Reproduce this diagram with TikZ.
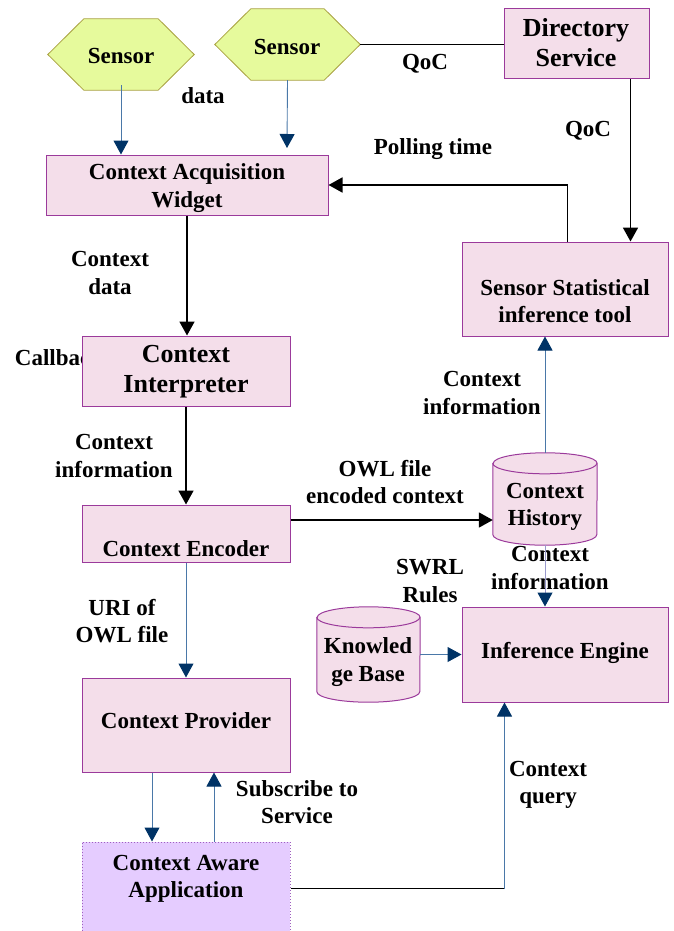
\documentclass[tikz,border=0pt]{standalone}
\usepackage{fontspec}
\setmainfont{Liberation Serif}
\usetikzlibrary{arrows.meta}
\definecolor{boxfill}{HTML}{F4DEEA}
\definecolor{boxline}{HTML}{9B3A9B}
\definecolor{sensfill}{HTML}{E6FA9C}
\definecolor{sensline}{HTML}{A8A040}
\definecolor{appfill}{HTML}{E5CCFF}
\definecolor{appline}{HTML}{A060C0}
\definecolor{navy}{HTML}{003366}
\definecolor{steel}{HTML}{4A78A8}
\definecolor{lav}{HTML}{9A9ACC}
\tikzset{
  every node/.style={font=\fontsize{23}{27.5}\selectfont\bfseries, inner sep=0pt, align=center},
  bigtext/.style={font=\fontsize{26}{30}\selectfont\bfseries},
  box/.style={draw=boxline, fill=boxfill, line width=1pt},
  appbox/.style={draw=appline, fill=appfill, line width=1pt, dotted},
  hold/.style={inner sep=0pt},
  blk/.style={line width=1.8pt, -{Triangle[length=14pt,width=15pt]}},
  blkline/.style={line width=1.8pt},
  blu/.style={line width=0.9pt, draw=steel, -{Triangle[length=14pt,width=15pt,line width=1pt,fill=navy,color=navy]}},
  lavl/.style={line width=0.9pt, draw=lav, -{Triangle[length=14pt,width=15pt,line width=1pt,fill=navy,color=navy]}},
}
\begin{document}
\begin{tikzpicture}[x=1pt,y=-1pt]
\useasboundingbox (0,0) rectangle (673,931);

% Callback text (partly hidden by the interpreter box)
\node (cb) at (59,358) {Callback};

% boxes
\node[box, minimum width=282pt, minimum height=60pt] (caw) at (187,185) {};
\node[box, minimum width=145pt, minimum height=70pt] (ds) at (576.5,44) {};
\node[box, minimum width=206pt, minimum height=94pt] (ss) at (565,289) {};
\node[box, minimum width=208pt, minimum height=70pt] (ci) at (186,371) {};
\node[box, minimum width=208pt, minimum height=57pt] (ce) at (186,533.5) {};
\node[box, minimum width=208pt, minimum height=94pt] (cp) at (186,725) {};
\node[appbox, minimum width=208pt, minimum height=93pt] (caa) at (186,888.5) {};
\node[box, minimum width=206pt, minimum height=95pt] (ie) at (565,654.5) {};

% sensors (hexagons)
\node[hold, minimum width=146pt, minimum height=71pt] (s1) at (121,54.5) {};
\node[hold, minimum width=145pt, minimum height=71pt] (s2) at (287.5,44.5) {};
\foreach \s in {s1,s2}{
  \draw[draw=sensline, fill=sensfill, line width=0.8pt]
    (\s.west) -- ([xshift=36pt]\s.north west) -- ([xshift=-36pt]\s.north east)
    -- (\s.east) -- ([xshift=-36pt]\s.south east) -- ([xshift=36pt]\s.south west) -- cycle;
}

% cylinders
\node[hold, minimum width=104pt, minimum height=92pt] (ch) at (545,499) {};
\node[hold, minimum width=103pt, minimum height=95pt] (kb) at (368.5,654.5) {};
\foreach \c/\r in {ch/52,kb/51.5}{
  \draw[draw=boxline, fill=boxfill, line width=1pt]
    ([yshift=-10.5pt]\c.north west) -- ([yshift=10.5pt]\c.south west)
    arc[start angle=180, end angle=360, x radius=\r pt, y radius=10.5pt]
    -- ([yshift=-10.5pt]\c.north east)
    arc[start angle=0, end angle=180, x radius=\r pt, y radius=10.5pt] -- cycle;
  \draw[draw=boxline, line width=1pt] ([yshift=-10.5pt]\c.north west)
    arc[start angle=180, end angle=360, x radius=\r pt, y radius=10.5pt];
}

% texts in shapes
\node (t-s1) at (121,56) {Sensor};
\node (t-s2) at (287,47) {Sensor};
\node[bigtext] (t-ds) at (576,43) {Directory\\Service};
\node (t-caw) at (187,188) {Context Acquisition\\Widget};
\node[bigtext] (t-ci) at (186,372) {Context\\Interpreter};
\node (t-ce) at (186,549) {Context Encoder};
\node (t-ss) at (565,301) {Sensor Statistical\\inference tool};
\node (t-ch) at (545,507) {Context\\History};
\node (t-kb) at (368,662) {Knowled\\ge Base};
\node (t-ie) at (565,653) {Inference Engine};
\node (t-cp) at (186,721) {Context Provider};
\node (t-caa) at (186,879) {Context Aware\\Application};

% connector labels
\node (l-qoc1) at (425,64) {QoC};
\node (l-data) at (203,96) {data};
\node (l-qoc2) at (588,131) {QoC};
\node (l-poll) at (433,149) {Polling time};
\node (l-cd) at (110,273) {Context\\data};
\node (l-ci1) at (114,456) {Context\\information};
\node (l-owl) at (385,482) {OWL file\\encoded context};
\node (l-ci2) at (482,393) {Context\\information};
\node (l-ci3) at (550,568) {Context\\information};
\node (l-swrl) at (430,581) {SWRL\\Rules};
\node (l-uri) at (122,621) {URI of\\OWL file};
\node (l-sub) at (297,802) {Subscribe to\\Service};
\node (l-cq) at (548,785) {Context\\query};

% connectors
\coordinate (s2end) at (287,148);
\draw[blu] ([yshift=5pt]s1.south) -- (s1.south |- caw.north);
\draw[blu] (s2.south) -- (s2end);
\draw[blkline] (s2.east) -- (s2.east -| ds.west);
\draw[blk] ([xshift=-19pt]ds.south east) -- ([xshift=-38pt]ss.north east);
\draw[blk] ([xshift=106pt]ss.north west) |- (caw.east);
\draw[blk] (caw.south) -- (caw.south |- ci.north);
\draw[blk] (ci.south) -- (ce.north);
\draw[blk] ([yshift=13.5pt]ce.east) -- ([yshift=13.5pt]ce.east -| ch.west);
\draw[blu] (ch.north) -- (ch.north |- ss.south);
\draw[lavl] (ch.south) -- (ch.south |- ie.north);
\draw[blu] (kb.east) -- (kb.east -| ie.west);
\draw[blu] (ce.south) -- (cp.north);
\draw[blu] ([xshift=-34pt]cp.south) -- ([xshift=-34pt]caa.north);
\draw[blu] ([xshift=28pt]caa.north) -- ([xshift=28pt]cp.south);
\coordinate (cq) at ([xshift=43pt]ie.south west |- caa.east);
\draw[blkline] (caa.east) -- (cq);
\draw[blu] (cq) -- ([xshift=43pt]ie.south west);
\end{tikzpicture}
\end{document}
